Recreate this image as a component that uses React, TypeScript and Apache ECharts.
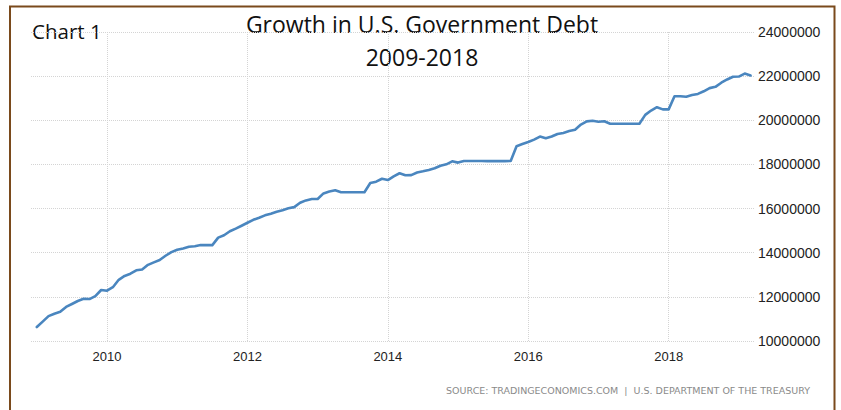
import React, { useEffect, useRef } from "react";
import * as echarts from "echarts";

const startYear = 2009;
const debt2009 = [10632000, 10878000, 11127000, 11237000, 11324000, 11545000, 11675000, 11812000, 11910000, 11900000, 12030000, 12311000];
const debt2010 = [12278000, 12438000, 12773000, 12949000, 13050000, 13202000, 13238000, 13450000, 13562000, 13667000, 13862000, 14025000];
const debt2011 = [14133000, 14195000, 14270000, 14290000, 14345000, 14343000, 14343000, 14684000, 14790000, 14974000, 15093000, 15223000];
const debt2012 = [15356000, 15491000, 15582000, 15692000, 15770000, 15856000, 15928000, 16016000, 16066000, 16261000, 16370000, 16433000];
const debt2013 = [16434000, 16687000, 16771000, 16829000, 16739000, 16738000, 16738000, 16738000, 16738000, 17156000, 17217000, 17352000];
const debt2014 = [17293000, 17463000, 17601000, 17508000, 17517000, 17632000, 17687000, 17749000, 17824000, 17937000, 18005000, 18141000];
const debt2015 = [18082000, 18156000, 18152000, 18152000, 18153000, 18151000, 18151000, 18151000, 18151000, 18153000, 18827000, 18922000];
const debt2016 = [19013000, 19126000, 19264000, 19187000, 19265000, 19381000, 19428000, 19510000, 19573000, 19806000, 19949000, 19977000];
const debt2017 = [19937000, 19959000, 19846000, 19846000, 19845000, 19845000, 19845000, 19845000, 20245000, 20442000, 20591000, 20493000];
const debt2018 = [20494000, 21089000, 21090000, 21068000, 21145000, 21195000, 21313000, 21458000, 21516000, 21702000, 21850000, 21974000];
const debt2019 = [21982000, 22115000, 22028000];

const debtValues = [
  ...debt2009, ...debt2010, ...debt2011, ...debt2012, ...debt2013, ...debt2014,
  ...debt2015, ...debt2016, ...debt2017, ...debt2018, ...debt2019,
];

const xTickLabels = [2010, 2012, 2014, 2016, 2018];
const yMin = 10000000;
const yMax = 24000000;
const yInterval = 2000000;

const titleLine1 = "Growth in U.S. Government Debt";
const titleLine2 = "2009-2018";
const chartLabel = "Chart 1";
const sourceText = "SOURCE: TRADINGECONOMICS.COM  |  U.S. DEPARTMENT OF THE TREASURY";

export default function App() {
  const ref = useRef<HTMLDivElement>(null);
  useEffect(() => {
    document.body.style.margin = "0";
    const chart = echarts.init(ref.current!, null, { renderer: "svg" });
    const data = debtValues.map((v, i) => [startYear + i / 12, v]);
    chart.setOption({
      animation: false,
      backgroundColor: "#ffffff",
      grid: { left: 31, right: 86, top: 32, bottom: 69 },
      xAxis: {
        type: "value",
        min: 2008.917,
        max: 2019.23,
        axisLine: { show: false },
        axisTick: { show: false, customValues: xTickLabels },
        axisLabel: {
          customValues: xTickLabels,
          formatter: (v: number) => String(Math.round(v)),
          color: "#222",
          fontFamily: "Liberation Sans",
          fontSize: 13,
          margin: 9,
        },
        splitLine: { show: true, lineStyle: { color: "#d4d4d4", type: "dotted", width: 1 } },
      },
      yAxis: {
        type: "value",
        position: "right",
        min: yMin,
        max: yMax,
        interval: yInterval,
        axisLine: { show: false },
        axisTick: { show: false },
        axisLabel: {
          formatter: (v: number) => String(v),
          color: "#222",
          fontFamily: "Liberation Sans",
          fontSize: 14,
          margin: 3,
        },
        splitLine: { show: true, lineStyle: { color: "#d4d4d4", type: "dotted", width: 1 } },
      },
      series: [
        {
          type: "line",
          data,
          showSymbol: false,
          symbol: "none",
          lineStyle: { color: "#4a86bf", width: 2.6, join: "round", cap: "round" },
          z: 3,
        },
      ],
      graphic: [
        {
          type: "rect",
          shape: { x: 10, y: 6.5, width: 824.5, height: 440 },
          style: { fill: "none", stroke: "#7a4a1c", lineWidth: 2 },
          z: 10,
        },
        {
          type: "text",
          x: 422,
          y: 24,
          style: {
            text: titleLine1,
            textAlign: "center",
            textVerticalAlign: "middle",
            fontFamily: "Open Sans",
            fontSize: 23,
            fill: "#111",
          },
        },
        {
          type: "text",
          x: 422,
          y: 57,
          style: {
            text: titleLine2,
            textAlign: "center",
            textVerticalAlign: "middle",
            fontFamily: "Open Sans",
            fontSize: 23,
            fill: "#111",
          },
        },
        {
          type: "text",
          x: 32,
          y: 31,
          style: {
            text: chartLabel,
            textAlign: "left",
            textVerticalAlign: "middle",
            fontFamily: "Open Sans",
            fontSize: 20.5,
            fill: "#111",
          },
        },
        {
          type: "text",
          x: 810,
          y: 390,
          style: {
            text: sourceText,
            textAlign: "right",
            textVerticalAlign: "middle",
            fontFamily: "DejaVu Sans",
            fontSize: 9.5,
            fill: "#8a8a8a",
          },
        },
      ],
    });
    return () => chart.dispose();
  }, []);
  return <div ref={ref} style={{ width: 841, height: 410 }} />;
}
